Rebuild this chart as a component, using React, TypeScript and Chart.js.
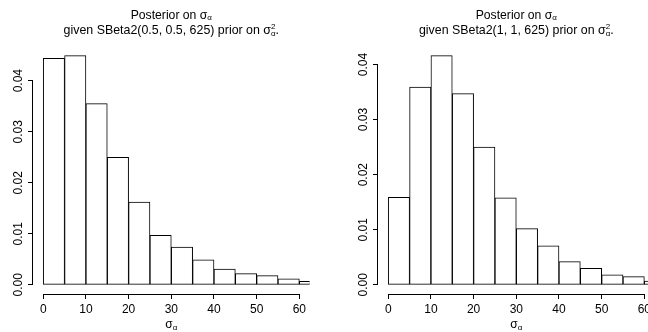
import React, { useEffect, useRef } from "react";
import { Chart, registerables } from "chart.js";

Chart.register(...registerables);

// ---- data ----
const binStarts = [0, 5, 10, 15, 20, 25, 30, 35, 40, 45, 50, 55, 60];
const binWidth = 5;
const densityLeft = [0.0444, 0.0449, 0.0355, 0.025, 0.0162, 0.0097, 0.0074, 0.0049, 0.0031, 0.0022, 0.0018, 0.0012, 0.0007];
const densityRight = [0.0159, 0.0359, 0.0416, 0.0347, 0.025, 0.0158, 0.0102, 0.0071, 0.0042, 0.003, 0.0018, 0.0015, 0.0007];
const xTicks = [0, 10, 20, 30, 40, 50, 60];
const yTicks = [0, 0.01, 0.02, 0.03, 0.04];
const yTickLabels = ["0.00", "0.01", "0.02", "0.03", "0.04"];
const xRange = [-2.4, 62.4];
const titleTop = "Posterior on σ";
const titleSub = "α";
const priorLeft = "given SBeta2(0.5, 0.5, 625) prior on σ";
const priorRight = "given SBeta2(1, 1, 625) prior on σ";
const xLabel = "σ";

const FONT = '"Liberation Sans", Arial, Helvetica, sans-serif';

type Piece = { t: string; size: number; dy: number } | { sup: string; sub: string; size: number };

function drawRich(ctx: CanvasRenderingContext2D, pieces: Piece[], cx: number, baseY: number) {
  const widthOf = (p: Piece) => {
    ctx.font = `${p.size}px ${FONT}`;
    if ("t" in p) return ctx.measureText(p.t).width;
    return Math.max(ctx.measureText(p.sup).width, ctx.measureText(p.sub).width);
  };
  const total = pieces.reduce((s, p) => s + widthOf(p), 0);
  let x = cx - total / 2;
  ctx.save();
  ctx.fillStyle = "#000";
  ctx.textBaseline = "alphabetic";
  ctx.textAlign = "left";
  for (const p of pieces) {
    const w = widthOf(p);
    ctx.font = `${p.size}px ${FONT}`;
    if ("t" in p) {
      ctx.fillText(p.t, x, baseY + p.dy);
    } else {
      ctx.fillText(p.sup, x, baseY - 5.5);
      ctx.fillText(p.sub, x, baseY + 1.5);
    }
    x += w;
  }
  ctx.restore();
}

function makeChart(canvas: HTMLCanvasElement, values: number[], prior: string, area: { left: number; right: number }) {
  const yMax = Math.max(...values);
  const yMin = -0.04 * yMax;
  const yTop = yMax * 1.04;
  const W = canvas.width;

  const rAxes = {
    id: "rAxes",
    afterDraw(chart: any) {
      const ctx = chart.ctx as CanvasRenderingContext2D;
      const xs = chart.scales.x;
      const ys = chart.scales.y;
      const ca = chart.chartArea;
      ctx.save();
      ctx.strokeStyle = "#000";
      ctx.lineWidth = 1;
      ctx.beginPath();
      const by = Math.round(ca.bottom) + 0.5;
      ctx.moveTo(xs.getPixelForValue(xTicks[0]), by);
      ctx.lineTo(xs.getPixelForValue(xTicks[xTicks.length - 1]), by);
      const lx = Math.round(ca.left) - 0.5;
      ctx.moveTo(lx, ys.getPixelForValue(yTicks[0]));
      ctx.lineTo(lx, ys.getPixelForValue(yTicks[yTicks.length - 1]));
      ctx.stroke();
      const cx = (ca.left + ca.right) / 2;
      drawRich(ctx, [
        { t: titleTop, size: 12.2, dy: 0 },
        { t: titleSub, size: 8, dy: 1.5 },
      ], cx, 18.5);
      drawRich(ctx, [
        { t: prior, size: 12.4, dy: 0 },
        { sup: "2", sub: titleSub, size: 8 },
        { t: ".", size: 12.4, dy: 0 },
      ], cx, 34);
      drawRich(ctx, [
        { t: xLabel, size: 12, dy: 0 },
        { t: titleSub, size: 8, dy: 1.5 },
      ], cx, 328);
      ctx.restore();
    },
  };

  return new Chart(canvas, {
    type: "bar",
    data: {
      datasets: [
        {
          data: binStarts.map((s, i) => ({ x: s + binWidth / 2, y: values[i] })),
          backgroundColor: "#ffffff",
          borderColor: "#000000",
          borderWidth: 1,
          borderSkipped: false,
          barPercentage: 1,
          categoryPercentage: 1,
        } as any,
      ],
    },
    options: {
      responsive: false,
      animation: false,
      devicePixelRatio: 1,
      layout: { padding: { top: 46.5, left: 0, right: W - area.right, bottom: 0 } },
      plugins: { legend: { display: false }, tooltip: { enabled: false }, title: { display: false } },
      scales: {
        x: {
          type: "linear",
          offset: false,
          min: xRange[0],
          max: xRange[1],
          afterBuildTicks: (s: any) => {
            s.ticks = xTicks.map((v) => ({ value: v }));
          },
          afterFit: (s: any) => {
            s.height = 38;
          },
          grid: { display: true, offset: false, drawOnChartArea: false, drawTicks: true, tickLength: 5, color: "#000", lineWidth: 1 },
          border: { display: false },
          ticks: {
            color: "#000",
            font: { family: FONT, size: 12 },
            padding: 3,
            maxRotation: 0,
            minRotation: 0,
            autoSkip: false,
            callback: (v: any) => String(v),
          },
        },
        y: {
          type: "linear",
          min: yMin,
          max: yTop,
          afterBuildTicks: (s: any) => {
            s.ticks = yTicks.map((v) => ({ value: v }));
          },
          afterFit: (s: any) => {
            s.width = area.left;
          },
          grid: { display: true, drawOnChartArea: false, drawTicks: true, tickLength: 5, color: "#000", lineWidth: 1 },
          border: { display: false },
          ticks: {
            color: "#000",
            font: { family: FONT, size: 12 },
            padding: -2,
            minRotation: 90,
            maxRotation: 90,
            crossAlign: "center",
            autoSkip: false,
            callback: (v: any) => {
              const i = yTicks.indexOf(v);
              return i >= 0 ? yTickLabels[i] : "";
            },
          },
        },
      },
    } as any,
    plugins: [rAxes],
  });
}

function Panel(props: { values: number[]; prior: string; left: number; width: number; area: { left: number; right: number } }) {
  const ref = useRef<HTMLCanvasElement | null>(null);
  useEffect(() => {
    if (!ref.current) return;
    const c = makeChart(ref.current, props.values, props.prior, props.area);
    return () => c.destroy();
  }, []);
  return (
    <canvas
      ref={ref}
      width={props.width}
      height={332}
      style={{ position: "absolute", left: props.left, top: 0, width: props.width, height: 332, display: "block" }}
    />
  );
}

export default function App() {
  return (
    <div style={{ position: "fixed", left: 0, top: 0, width: 648, height: 332, overflow: "hidden", background: "#fff" }}>
      <Panel values={densityLeft} prior={priorLeft} left={0} width={324} area={{ left: 33, right: 309.6 }} />
      <Panel values={densityRight} prior={priorRight} left={324} width={340} area={{ left: 54, right: 330.6 }} />
    </div>
  );
}
